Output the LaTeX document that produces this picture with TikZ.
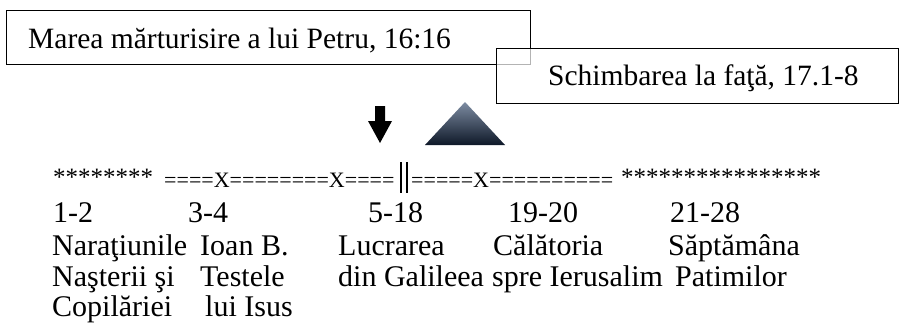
\documentclass[tikz,border=0pt]{standalone}
\usepackage{fontspec}
\setmainfont{Liberation Serif}
\begin{document}
\begin{tikzpicture}[x=1pt,y=-1pt,
  lbl/.style={anchor=base west, inner sep=0pt, font=\fontsize{30}{36}\selectfont},
  boxtxt/.style={anchor=base west, inner sep=0pt, font=\fontsize{29.5}{35}\selectfont},
  tl/.style={anchor=base west, inner sep=0pt, font=\fontsize{22}{26}\selectfont},
  stars/.style={anchor=base west, inner sep=0pt, font=\fontsize{25}{30}\selectfont},
  frame/.style={draw=black, line width=1.3pt, anchor=north west, inner sep=0pt},
  bar/.style={draw=black, line width=1.4pt}]
\useasboundingbox (0,0) rectangle (899,327);
% boxes
\node[frame, minimum width=524pt, minimum height=54pt] (box1) at (6,10) {};
\node[boxtxt] (t1) at (28,48) {Marea mărturisire a lui Petru, 16:16};
\node[frame, fill=white, fill opacity=0.7, minimum width=402pt, minimum height=55pt] (box2) at (496,48) {};
\node[boxtxt] (t2) at (548,85) {Schimbarea la faţă, 17.1-8};
% arrow
\fill[black] (375,106) -- (385,106) -- (385,121) -- (392,121) -- (380,143) -- (368,121) -- (375,121) -- cycle;
% triangle
\definecolor{trtop}{RGB}{125,140,162}
\definecolor{trbot}{RGB}{14,24,40}
\shade[top color=trtop, bottom color=trbot] (425,145) -- (465,102) -- (505,145) -- cycle;
% timeline
\node[stars] (s1) at (53,185) {********};
\node[tl] (e1) at (164,187) {====X========X====};
\coordinate (b1t) at (401,162); \coordinate (b1b) at (401,193);
\coordinate (b2t) at (407,162); \coordinate (b2b) at (407,193);
\draw[bar] (b1t) -- (b1b);
\draw[bar] (b2t) -- (b2b);
\node[tl] (e2) at (411,187) {=====X==========};
\node[stars] (s2) at (621,185) {****************};
% numbers
\node[lbl] (n1) at (53,222) {1-2};
\node[lbl] (n2) at (188,222) {3-4};
\node[lbl] (n3) at (368,222) {5-18};
\node[lbl] (n4) at (508,222) {19-20};
\node[lbl] (n5) at (670,222) {21-28};
% row 2
\node[lbl] (a1) at (52,255) {Naraţiunile};
\node[lbl] (a2) at (200,255) {Ioan B.};
\node[lbl] (a3) at (338,255) {Lucrarea};
\node[lbl] (a4) at (493,255) {Călătoria};
\node[lbl] (a5) at (668,255) {Săptămâna};
% row 3
\node[lbl] (b1) at (52,286) {Naşterii şi};
\node[lbl] (b2) at (200,286) {Testele};
\node[lbl] (b3) at (338,286) {din Galileea};
\node[lbl] (b4) at (492,286) {spre Ierusalim};
\node[lbl] (b5) at (675,286) {Patimilor};
% row 4
\node[lbl] (c1) at (52,316) {Copilăriei};
\node[lbl] (c2) at (205,316) {lui Isus};
\end{tikzpicture}
\end{document}
